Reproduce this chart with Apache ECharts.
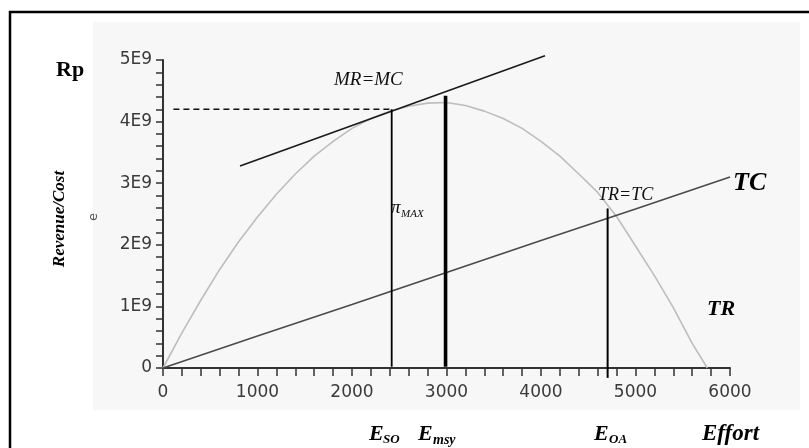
<!DOCTYPE html>
<html>
<head>
<meta charset="utf-8">
<script src="https://cdn.jsdelivr.net/npm/echarts@6/dist/echarts.min.js"></script>
<style>html,body{margin:0;padding:0;background:#fff;}#c{width:809px;height:448px;}</style>
</head>
<body>
<div id="c"></div>
<script>
// ---- data ----
var xTicks = [0, 1000, 2000, 3000, 4000, 5000, 6000];
var yTickLabels = ['0', '1E9', '2E9', '3E9', '4E9', '5E9'];

var effortTR = [0,200,400,600,800,1000,1200,1400,1600,1800,2000,2200,2400,2600,2800,3000,3200,3400,3600,3800,4000,4200,4400,4600,4800,5000,5200,5400,5600,5760];
var revenueTR = [0,0.57,1.10,1.60,2.05,2.45,2.82,3.15,3.44,3.68,3.89,4.05,4.17,4.25,4.30,4.31,4.26,4.17,4.05,3.89,3.68,3.44,3.15,2.85,2.46,1.98,1.50,0.98,0.40,0]; // E9

var effortTC = [0,1000,2000,3000,4000,5000,6000];
var costTC = [0,0.52,1.03,1.55,2.07,2.58,3.10]; // E9

var tangentMRMC = [[815,3.28],[4042,5.07]];       // E9
var profitDash = [[110,4.20],[2420,4.20]];
var eSO = [[2420,4.20],[2420,0.02]];
var eMSY = [[2990,4.42],[2990,0.02]];
var eOA = [[4705,2.59],[4705,-0.16]];

function pairs(xs, ys){ return xs.map(function(x,i){ return [x, ys[i]*1e9]; }); }
function scale(arr){ return arr.map(function(p){ return [p[0], p[1]*1e9]; }); }

var chart = echarts.init(document.getElementById('c'), null, {renderer:'canvas'});
var axisFont = {fontFamily:'DejaVu Sans', fontSize:17, color:'#3a3a3a'};

chart.setOption({
  animation:false,
  backgroundColor:'#ffffff',
  grid:{left:163, top:60, right:79, bottom:80},
  xAxis:{
    type:'value', min:0, max:6000, interval:1000,
    axisLine:{show:true, onZero:false, lineStyle:{color:'#333', width:2}},
    axisTick:{show:true, length:8, lineStyle:{color:'#333', width:1.5}},
    minorTick:{show:true, splitNumber:5, length:8, lineStyle:{color:'#333', width:1.5}},
    splitLine:{show:false},
    axisLabel:Object.assign({margin:16, formatter:function(v){ return xTicks.indexOf(v)>=0 ? String(v) : ''; }}, axisFont)
  },
  yAxis:{
    type:'value', min:0, max:5e9, interval:1e9,
    axisLine:{show:true, lineStyle:{color:'#333', width:2}},
    axisTick:{show:true, length:7, lineStyle:{color:'#333', width:1.5}},
    minorTick:{show:true, splitNumber:5, length:7, lineStyle:{color:'#333', width:1.5}},
    splitLine:{show:false},
    axisLabel:Object.assign({margin:11, formatter:function(v){ return yTickLabels[Math.round(v/1e9)]; }}, axisFont)
  },
  series:[
    {type:'line', name:'TR', data:pairs(effortTR, revenueTR), showSymbol:false, symbol:'none', smooth:false,
     lineStyle:{color:'#bdbdbd', width:1.6}, z:3},
    {type:'line', name:'TC', data:pairs(effortTC, costTC), showSymbol:false, symbol:'none',
     lineStyle:{color:'#4a4a4a', width:1.6}, z:3},
    {type:'line', name:'MR=MC', data:scale(tangentMRMC), showSymbol:false, symbol:'none', clip:false,
     lineStyle:{color:'#1a1a1a', width:1.6}, z:4},
    {type:'line', name:'dash', data:scale(profitDash), showSymbol:false, symbol:'none', clip:false,
     lineStyle:{color:'#111', width:1.5, type:[6,4]}, z:4},
    {type:'line', name:'Eso', data:scale(eSO), showSymbol:false, symbol:'none', clip:false,
     lineStyle:{color:'#000', width:1.8}, z:5},
    {type:'line', name:'Emsy', data:scale(eMSY), showSymbol:false, symbol:'none', clip:false,
     lineStyle:{color:'#000', width:3.6}, z:5},
    {type:'line', name:'Eoa', data:scale(eOA), showSymbol:false, symbol:'none', clip:false,
     lineStyle:{color:'#000', width:2}, z:5}
  ],
  graphic:[
    {type:'rect', z:-10, silent:true, shape:{x:93, y:22, width:707, height:388}, style:{fill:'#f7f7f7'}},
    {type:'rect', z:100, silent:true, shape:{x:10, y:12, width:820, height:460}, style:{fill:null, stroke:'#000', lineWidth:2.5}},
    {type:'text', z:100, x:56, y:70, style:{text:'Rp', font:'bold 22px "Liberation Serif"', fill:'#000', verticalAlign:'middle'}},
    {type:'text', z:100, x:60, y:219, rotation:Math.PI/2, style:{text:'Revenue/Cost', font:'italic bold 17px "Liberation Serif"', fill:'#000', align:'center', verticalAlign:'middle'}},
    {type:'text', z:100, x:94, y:217, rotation:Math.PI/2, style:{text:'e', font:'13px "DejaVu Sans"', fill:'#555', align:'center', verticalAlign:'middle'}},
    {type:'text', z:100, x:334, y:80, style:{text:'MR=MC', font:'italic 19px "Liberation Serif"', fill:'#111', verticalAlign:'middle'}},
    {type:'text', z:100, x:391, y:208, style:{text:'π', font:'italic 19px "Liberation Serif"', fill:'#111', verticalAlign:'middle'}},
    {type:'text', z:100, x:401, y:214, style:{text:'MAX', font:'italic 11px "Liberation Serif"', fill:'#111', verticalAlign:'middle'}},
    {type:'text', z:100, x:598, y:195, style:{text:'TR=TC', font:'italic 18px "Liberation Serif"', fill:'#111', verticalAlign:'middle'}},
    {type:'text', z:100, x:733, y:183, style:{text:'TC', font:'italic bold 26px "Liberation Serif"', fill:'#000', verticalAlign:'middle'}},
    {type:'text', z:100, x:707, y:309, style:{text:'TR', font:'italic bold 22px "Liberation Serif"', fill:'#000', verticalAlign:'middle'}},
    {type:'text', z:100, x:369, y:434, style:{text:'E', font:'italic bold 22px "Liberation Serif"', fill:'#000', verticalAlign:'middle'}},
    {type:'text', z:100, x:383, y:440, style:{text:'SO', font:'italic bold 13px "Liberation Serif"', fill:'#000', verticalAlign:'middle'}},
    {type:'text', z:100, x:418, y:434, style:{text:'E', font:'italic bold 22px "Liberation Serif"', fill:'#000', verticalAlign:'middle'}},
    {type:'text', z:100, x:433, y:440, style:{text:'msy', font:'italic bold 14px "Liberation Serif"', fill:'#000', verticalAlign:'middle'}},
    {type:'text', z:100, x:594, y:434, style:{text:'E', font:'italic bold 22px "Liberation Serif"', fill:'#000', verticalAlign:'middle'}},
    {type:'text', z:100, x:609, y:440, style:{text:'OA', font:'italic bold 13px "Liberation Serif"', fill:'#000', verticalAlign:'middle'}},
    {type:'text', z:100, x:702, y:434, style:{text:'Effort', font:'italic bold 23px "Liberation Serif"', fill:'#000', verticalAlign:'middle'}}
  ]
});
</script>
</body>
</html>
